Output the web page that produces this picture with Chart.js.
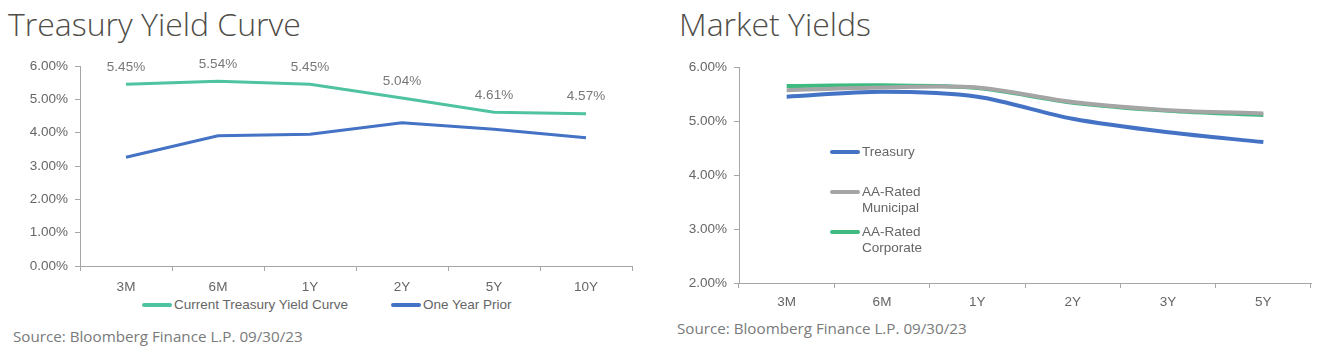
<!DOCTYPE html>
<html>
<head>
<meta charset="utf-8">
<script src="https://cdn.jsdelivr.net/npm/chart.js@4"></script>
<style>
  body { margin: 0; background: #fff; }
  #wrap { position: relative; width: 1322px; height: 352px; overflow: hidden; }
  .title { position: absolute; font-family: "Open Sans", sans-serif; font-weight: 300; font-size: 32px; color: #4f4d48; white-space: nowrap; }
  .source { position: absolute; font-family: "Open Sans", sans-serif; font-size: 15.2px; color: #7a7a7a; white-space: nowrap; }
  .box { position: absolute; }
  .leg { position: absolute; font-family: "Liberation Sans", Arial, sans-serif; font-size: 13.5px; color: #666; line-height: 16px; }
  .leg .sw { position: absolute; left: 0; width: 30px; height: 4px; border-radius: 2px; }
  .leg .tx { position: absolute; left: 32px; white-space: nowrap; }
</style>
</head>
<body>
<div id="wrap">
  <div class="title" style="left:8px;top:2px;">Treasury Yield Curve</div>
  <div class="box" style="left:0;top:50px;width:640px;height:246px;"><canvas id="curve"></canvas></div>
  <div class="leg" style="left:142px;top:297px;">
    <div class="sw" style="top:6px;background:#4fc3a1;"></div><div class="tx" style="top:0;">Current Treasury Yield Curve</div>
  </div>
  <div class="leg" style="left:391px;top:297px;">
    <div class="sw" style="top:6px;background:#4472c4;"></div><div class="tx" style="top:0;">One Year Prior</div>
  </div>
  <div class="source" style="left:13px;top:326px;">Source: Bloomberg Finance L.P. 09/30/23</div>

  <div class="title" style="left:679px;top:2px;">Market Yields</div>
  <div class="box" style="left:660px;top:50px;width:660px;height:263px;"><canvas id="market"></canvas></div>
  <div class="source" style="left:677px;top:318px;">Source: Bloomberg Finance L.P. 09/30/23</div>

  <div class="leg" style="left:830px;top:144px;">
    <div class="sw" style="top:6px;background:#4472c4;"></div><div class="tx" style="top:0;">Treasury</div>
  </div>
  <div class="leg" style="left:830px;top:184px;">
    <div class="sw" style="top:6px;background:#a5a5a5;"></div><div class="tx" style="top:0;">AA-Rated<br>Municipal</div>
  </div>
  <div class="leg" style="left:830px;top:224px;">
    <div class="sw" style="top:6px;background:#3fbb82;"></div><div class="tx" style="top:0;">AA-Rated<br>Corporate</div>
  </div>
</div>
<script>
const curveLabels = ['3M', '6M', '1Y', '2Y', '5Y', '10Y'];
const currentCurve = [5.45, 5.54, 5.45, 5.04, 4.61, 4.57];
const yearPrior = [3.26, 3.91, 3.95, 4.30, 4.10, 3.85];

const marketLabels = ['3M', '6M', '1Y', '2Y', '3Y', '5Y'];
const treasury = [5.45, 5.54, 5.45, 5.04, 4.79, 4.61];
const municipal = [5.57, 5.62, 5.62, 5.35, 5.20, 5.14];
const corporate = [5.65, 5.66, 5.61, 5.34, 5.19, 5.11];

const tickFont = { family: "'Liberation Sans', Arial, sans-serif", size: 13.5 };
const tickColor = '#666';
const axisColor = '#a6a6a6';

Chart.defaults.animation = false;

// labels above the current curve points
const pointLabels = {
  id: 'pointLabels',
  afterDatasetsDraw(chart) {
    const ctx = chart.ctx;
    const meta = chart.getDatasetMeta(0);
    ctx.save();
    ctx.font = "13.5px 'Liberation Sans', Arial, sans-serif";
    ctx.fillStyle = '#777';
    ctx.textAlign = 'center';
    ctx.textBaseline = 'middle';
    meta.data.forEach((pt, i) => {
      ctx.fillText(currentCurve[i].toFixed(2) + '%', pt.x, pt.y - 17);
    });
    ctx.restore();
  }
};

function axes(min, max, yWidth, xHeight, xPad) {
  return {
    x: {
      offset: true,
      grid: { offset: true, drawOnChartArea: false, tickLength: 5, color: axisColor },
      border: { color: axisColor },
      ticks: { font: tickFont, color: tickColor, padding: xPad },
      afterFit: s => { s.height = xHeight; }
    },
    y: {
      min: min, max: max,
      grid: { drawOnChartArea: false, tickLength: 5, color: axisColor },
      border: { color: axisColor },
      ticks: { stepSize: 1, font: tickFont, color: tickColor, padding: 7,
               callback: v => v.toFixed(2) + '%' },
      afterFit: s => { s.width = yWidth; }
    }
  };
}

new Chart('curve', {
  type: 'line',
  data: {
    labels: curveLabels,
    datasets: [
      { label: 'Current Treasury Yield Curve', data: currentCurve, borderColor: '#4fc3a1',
        borderWidth: 3, pointRadius: 0, tension: 0 },
      { label: 'One Year Prior', data: yearPrior, borderColor: '#4472c4',
        borderWidth: 3, pointRadius: 0, tension: 0 }
    ]
  },
  options: {
    responsive: true,
    maintainAspectRatio: false,
    layout: { padding: { top: 16, right: 8, left: 0, bottom: 0 } },
    scales: axes(0, 6, 80, 30, 8),
    plugins: { tooltip: { enabled: false }, legend: { display: false } }
  },
  plugins: [pointLabels]
});

new Chart('market', {
  type: 'line',
  data: {
    labels: marketLabels,
    datasets: [
      { label: 'AA-Rated Municipal', data: municipal, borderColor: '#a5a5a5', borderWidth: 4, pointRadius: 0, tension: 0.3 },
      { label: 'AA-Rated Corporate', data: corporate, borderColor: '#3fbb82', borderWidth: 4, pointRadius: 0, tension: 0.3 },
      { label: 'Treasury', data: treasury, borderColor: '#4472c4', borderWidth: 4, pointRadius: 0, tension: 0.3 }
    ]
  },
  options: {
    responsive: true,
    maintainAspectRatio: false,
    layout: { padding: { top: 17, right: 9, left: 0, bottom: 0 } },
    scales: axes(2, 6, 79, 30, 6),
    plugins: { tooltip: { enabled: false }, legend: { display: false } }
  }
});
</script>
</body>
</html>
